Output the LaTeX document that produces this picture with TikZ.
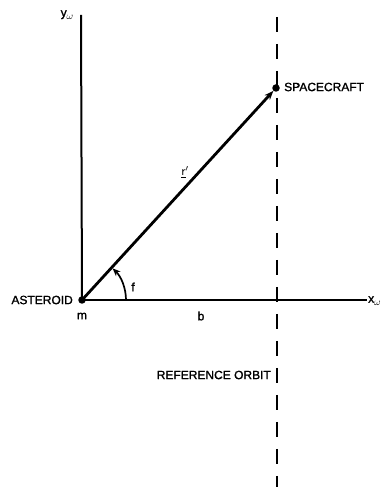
\documentclass[tikz,border=0pt]{standalone}
\usepackage{fontspec}
\setmainfont[FakeBold=1.4]{Liberation Sans}
\usetikzlibrary{arrows.meta}
\begin{document}
\begin{tikzpicture}[x=1pt,y=1pt,
  lbl/.style={font=\fontsize{12}{14}\selectfont, inner sep=0pt},
  axisline/.style={line width=2pt},
  vecline/.style={line width=2.8pt, -{Stealth[length=9pt,width=7pt]}},
  orbitline/.style={line width=2.3pt, dash pattern=on 15pt off 12pt},
  dotnode/.style={circle, fill=black, inner sep=0pt, minimum size=7.5pt}]
\useasboundingbox (0,0) rectangle (383,487);
% points
\node[dotnode] (ast) at (82,187) {};
\node[dotnode] (sc) at (276,399) {};
\coordinate (ytop) at (81,472);
\coordinate (xend) at (367,187);
\coordinate (otop) at (277,470);
\coordinate (obot) at (277,0);
\coordinate (arcstart) at (126,187);
% axes
\draw[axisline] (ast.center) -- (ytop);
\draw[axisline] (ast.center) -- (xend);
% reference orbit
\draw[orbitline] (otop) -- (obot);
% vector
\draw[vecline] (ast.center) -- (sc);
% angle arc
\draw[line width=1.7pt, -{Stealth[length=8pt,width=6.5pt]}] (arcstart) arc[start angle=0, end angle=46, radius=44];
% labels
\node[lbl, anchor=east] (tast) at (73,187) {ASTEROID};
\node[lbl, anchor=west] (tsc) at (284,400) {SPACECRAFT};
\node[lbl, anchor=east] (tro) at (271,112) {REFERENCE ORBIT};
\node[lbl] (tm) at (82,171) {m};
\node[lbl] (tb) at (201,171) {b};
\node[lbl] (tf) at (133,200) {f};
\node[lbl, font=\fontsize{13}{15}\selectfont] (tr) at (185,315) {$\underline{\mathsf{r}}'$};
\node[lbl, anchor=west] (tx) at (368,186) {x\raisebox{-3pt}{\fontsize{10}{12}\selectfont$\omega$}};
\node[lbl] (ty) at (67,472) {y\raisebox{-3pt}{\fontsize{10}{12}\selectfont$\omega$}};
\end{tikzpicture}
\end{document}
